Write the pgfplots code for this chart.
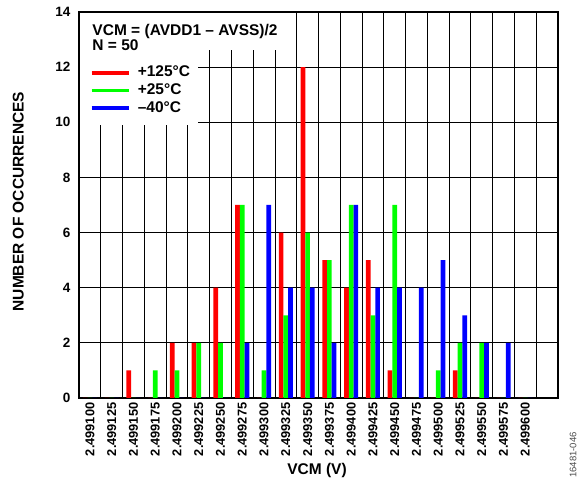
\documentclass[border=0pt]{standalone}
\usepackage{fontspec}
\setmainfont{Liberation Sans}
\usepackage{pgfplots}
\usepackage{pgfplotstable}
\pgfplotsset{compat=1.18}
\definecolor{cRed}{RGB}{255,0,0}
\definecolor{cGreen}{RGB}{0,255,0}
\definecolor{cBlue}{RGB}{0,0,255}
\pgfplotstableread{
x r g b
0 0 0 0
1 0 0 0
2 1 0 0
3 0 1 0
4 2 1 0
5 2 2 0
6 4 2 0
7 7 7 2
8 0 1 7
9 6 3 4
10 12 6 4
11 5 5 2
12 4 7 7
13 5 3 4
14 1 7 4
15 0 0 4
16 0 1 5
17 1 2 3
18 0 2 2
19 0 0 2
20 0 0 0
}\datatable
\newcommand{\mylab}[1]{\ifcase#1 2.499100\or 2.499125\or 2.499150\or 2.499175\or 2.499200\or 2.499225\or 2.499250\or 2.499275\or 2.499300\or 2.499325\or 2.499350\or 2.499375\or 2.499400\or 2.499425\or 2.499450\or 2.499475\or 2.499500\or 2.499525\or 2.499550\or 2.499575\or 2.499600\fi}
\begin{document}
\begin{tikzpicture}[x=1pt,y=1pt]
\begin{axis}[
 at={(0,0)}, anchor=south west,
 scale only axis, width=479pt, height=386pt,
 xmin=-0.5, xmax=21.5, ymin=0, ymax=14,
 ybar=0pt, bar width=4.7pt,
 xtick={0,...,20},
 xticklabel={\textbf{\mylab{\ticknum}}},
 minor xtick={-0.5,0.5,...,21.5},
 xminorgrids=true, ymajorgrids=true, xmajorgrids=false,
 ytick={0,2,...,14},
 major tick length=0pt, minor tick length=0pt,
 grid style={black, line width=0.9pt},
 minor grid style={black, line width=0.9pt},
 axis line style={black, line width=1.4pt},
 tick label style={font=\bfseries\fontsize{13.5}{13.5}\selectfont, inner sep=0pt},
 x tick label style={font=\bfseries\fontsize{12.8}{12.8}\selectfont},
 /pgf/number format/assume math mode=true,
 x tick label style={rotate=90, anchor=east},
 xticklabel shift=4.5pt, yticklabel shift=8.5pt,
 xlabel={VCM (V)}, ylabel={NUMBER OF OCCURRENCES},
 label style={font=\bfseries\fontsize{15.5}{15.5}\selectfont},
 xlabel style={at={(axis description cs:0.497,-0.197)}, anchor=base},
 ylabel style={at={(axis description cs:-0.127,0.509)}, anchor=center},
 legend cell align=left,
 legend style={at={(axis description cs:0.0225,0.8601)}, anchor=north west, draw=none, fill=none, inner sep=0pt, outer sep=0pt, row sep=3.6pt, font=\bfseries\fontsize{15.5}{15.5}\selectfont, nodes={inner sep=0pt, text height=11pt, text depth=3pt}, /tikz/every odd column/.append style={column sep=7.5pt}},
]
\addplot[fill=cRed, draw=none, legend image code/.code={\draw[cRed, line width=3.5pt] (0pt,0pt) -- (37pt,0pt);}] table[x=x,y=r] {\datatable};
\addlegendentry{+125°C}
\addplot[fill=cGreen, draw=none, legend image code/.code={\draw[cGreen, line width=3.5pt] (0pt,0pt) -- (37pt,0pt);}] table[x=x,y=g] {\datatable};
\addlegendentry{+25°C}
\addplot[fill=cBlue, draw=none, legend image code/.code={\draw[cBlue, line width=3.5pt] (0pt,0pt) -- (37pt,0pt);}] table[x=x,y=b] {\datatable};
\addlegendentry{–40°C}
\fill[white] ([xshift=0.7pt]axis cs:-0.5,9.9) rectangle ([yshift=-0.7pt]axis cs:4.97,14);
\fill[white] ([xshift=0.7pt]axis cs:-0.5,12.62) rectangle ([yshift=-0.7pt]axis cs:9.2,14);
\node[anchor=base west, inner sep=0pt, font=\bfseries\fontsize{15.5}{15.5}\selectfont] at ([xshift=13.3pt,yshift=-23.5pt]rel axis cs:0,1) {VCM = (AVDD1 – AVSS)/2};
\node[anchor=base west, inner sep=0pt, font=\bfseries\fontsize{15.5}{15.5}\selectfont] at ([xshift=13.3pt,yshift=-38.7pt]rel axis cs:0,1) {N = 50};
\end{axis}
\node[rotate=90, anchor=center, inner sep=0pt, text=black!70, font=\fontsize{9.5}{9.5}\selectfont] at (494pt,-57pt) {16481-046};
\pgfresetboundingbox
\path[use as bounding box] (-79pt,-83pt) rectangle (508pt,398pt);
\end{tikzpicture}
\end{document}
